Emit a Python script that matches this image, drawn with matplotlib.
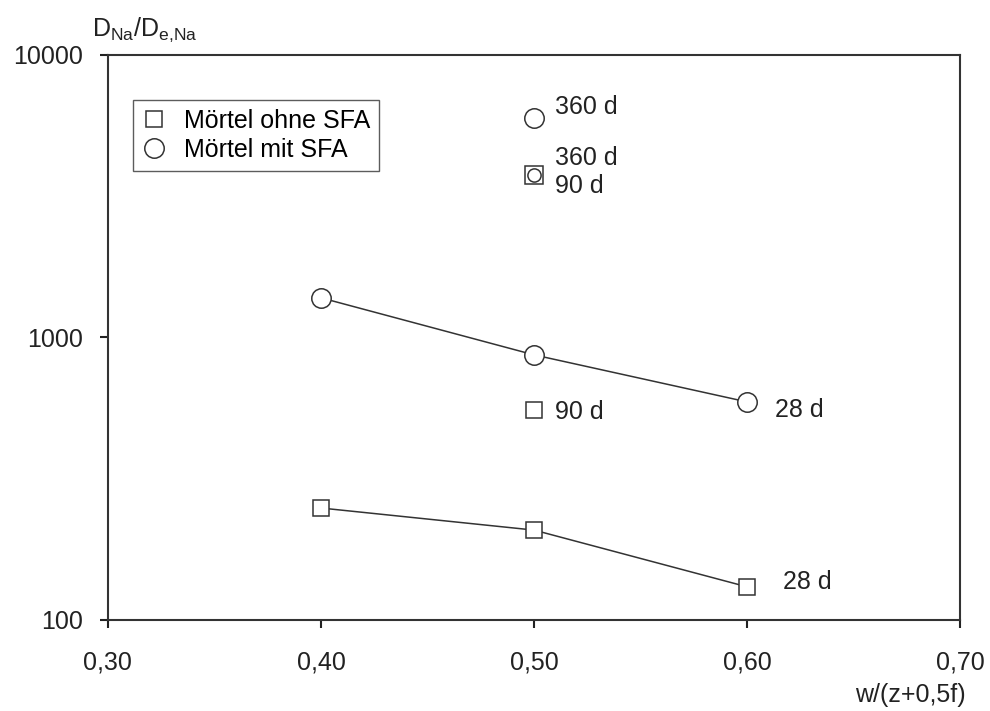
import matplotlib.pyplot as plt
from matplotlib.ticker import FixedLocator, FuncFormatter

plt.rcParams['font.family'] = ['Liberation Sans', 'DejaVu Sans']

# 28 d series (connected)
wz = [0.40, 0.50, 0.60]
ohne_28 = [249, 208, 131]
mit_28 = [1380, 867, 591]

# single points at w/(z+0,5f) = 0,50
x_single = 0.50
ohne_90 = 554
ohne_360 = 3760
mit_90 = 3760
mit_360 = 5980

fig = plt.figure(figsize=(9.9, 7.11), dpi=100)
ax = fig.add_axes([0.109, 0.128, 0.861, 0.795])

sq = dict(marker="s", ms=11.5, mfc="white", mec="#333333", mew=1.1, ls="none")
ci = dict(marker="o", ms=14, mfc="white", mec="#333333", mew=1.1, ls="none")

ax.plot(wz, ohne_28, color="#333333", lw=1.1, zorder=1)
ax.plot(wz, mit_28, color="#333333", lw=1.1, zorder=1)
ax.plot(wz, ohne_28, label="Mörtel ohne SFA", zorder=2, **sq)
ax.plot(wz, mit_28, label="Mörtel mit SFA", zorder=2, **ci)

ax.plot([x_single], [ohne_90], zorder=2, **sq)
ax.plot([x_single], [ohne_360], zorder=2, **dict(sq, ms=12.5))
ax.plot([x_single], [mit_90], zorder=3, **dict(ci, ms=9.5))
ax.plot([x_single], [mit_360], zorder=2, **ci)

fs = 18
tc = "#222222"
ax.text(0.510, 6540, "360 d", fontsize=fs, va="center", color=tc)
ax.text(0.510, 4320, "360 d", fontsize=fs, va="center", color=tc)
ax.text(0.510, 3440, "90 d", fontsize=fs, va="center", color=tc)
ax.text(0.510, 545, "90 d", fontsize=fs, va="center", color=tc)
ax.text(0.613, 553, "28 d", fontsize=fs, va="center", color=tc)
ax.text(0.617, 136, "28 d", fontsize=fs, va="center", color=tc)

ax.set_yscale("log")
ax.set_xlim(0.30, 0.70)
ax.set_ylim(100, 10000)
ax.xaxis.set_major_locator(FixedLocator([0.30, 0.40, 0.50, 0.60, 0.70]))
ax.xaxis.set_major_formatter(FuncFormatter(lambda v, p: f"{v:.2f}".replace(".", ",")))
ax.yaxis.set_major_locator(FixedLocator([100, 1000, 10000]))
ax.yaxis.set_major_formatter(FuncFormatter(lambda v, p: f"{v:.0f}"))
ax.yaxis.set_minor_locator(FixedLocator([]))
ax.tick_params(axis="both", direction="out", length=6, width=1.5,
               labelsize=fs, colors=tc)
ax.tick_params(axis="y", pad=12)
ax.tick_params(axis="x", pad=16)
for s in ax.spines.values():
    s.set_linewidth(1.5)
    s.set_color("#333333")

fig.text(0.093, 0.958, r"D$_\mathregular{Na}$/D$_\mathregular{e{,}Na}$",
         fontsize=fs, color=tc, ha="left", va="center")
fig.text(0.975, 0.005, "w/(z+0,5f)", fontsize=fs, color=tc,
         ha="right", va="bottom")

leg = ax.legend(loc="upper left", bbox_to_anchor=(0.029, 0.920), fontsize=fs,
                frameon=True, fancybox=False, edgecolor="#333333",
                handletextpad=0.7, borderpad=0.35, labelspacing=0.22,
                handlelength=1.0, borderaxespad=0)
leg.get_frame().set_linewidth(1.0)

fig.savefig("out.png", dpi=100)
